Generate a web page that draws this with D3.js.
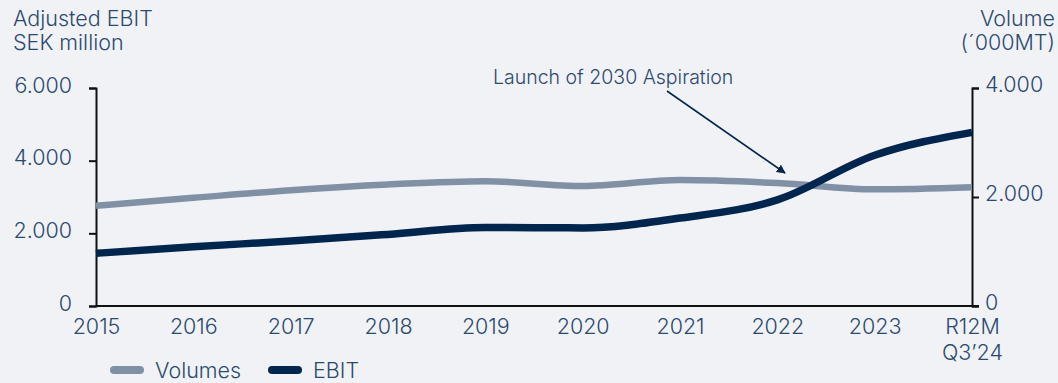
<!DOCTYPE html>
<html>
<head>
<meta charset="utf-8">
<script src="https://cdn.jsdelivr.net/npm/d3@7"></script>
<style>
  body { margin: 0; background: #f1f2f6; }
  svg { display: block; font-family: Inter, "Open Sans", sans-serif; font-weight: 300; }
</style>
</head>
<body>
<div id="chart"></div>
<script>
// Data
const years = ["2015", "2016", "2017", "2018", "2019", "2020", "2021", "2022", "2023", "R12M Q3’24"];
const ebit = [1450, 1630, 1790, 1970, 2160, 2150, 2420, 2920, 4150, 4780];      // SEK million, left axis
const volumes = [1840, 1985, 2125, 2230, 2290, 2200, 2310, 2255, 2140, 2180];  // '000 MT, right axis
const leftTicks = [0, 2000, 4000, 6000];
const rightTicks = [0, 2000, 4000];

let width = 1058, height = 383;
let margin = { top: 88, bottom: 77, left: 96, right: 86 };

const textColor = "#2b4a70";
const volColor = "#8090a5";
const ebitColor = "#00264d";
const fontSize = '21.5px';

let svg = d3.select('#chart')
    .append('svg')
    .attr('width', width)
    .attr('height', height)
    .style('background', '#f1f2f6');

// number format with dot as thousands separator
const loc = d3.formatLocale({ decimal: ",", thousands: ".", grouping: [3], currency: ["", ""] });
const fmt = loc.format(",d");

// Scales
const xScale = d3.scalePoint()
    .domain(years)
    .range([margin.left, width - margin.right]);

const yLeft = d3.scaleLinear()
    .domain([0, 6000])
    .range([height - margin.bottom, margin.top]);

const yRight = d3.scaleLinear()
    .domain([0, 4000])
    .range([height - margin.bottom, margin.top]);

// Axes
let yaxisL = svg.append('g')
    .attr('transform', `translate(${margin.left},0)`)
    .call(d3.axisLeft(yLeft).tickValues(leftTicks).tickFormat(fmt).tickSize(7).tickSizeOuter(7).tickPadding(17));

let yaxisR = svg.append('g')
    .attr('transform', `translate(${width - margin.right},0)`)
    .call(d3.axisRight(yRight).tickValues(rightTicks).tickFormat(fmt).tickSize(7).tickSizeOuter(7).tickPadding(6));

let xaxis = svg.append('g')
    .attr('transform', `translate(0,${height - margin.bottom})`)
    .call(d3.axisBottom(xScale).tickSize(0).tickSizeOuter(0).tickPadding(13));

xaxis.select('.domain').attr('d', `M${margin.left},0H${width - margin.right + 7}`);

[yaxisL, yaxisR, xaxis].forEach(ax => {
    ax.select('.domain').attr('stroke', '#111').attr('stroke-width', 2);
    ax.selectAll('.tick line').attr('stroke', '#111').attr('stroke-width', 2);
    ax.selectAll('.tick text')
        .attr('fill', textColor)
        .style('font-size', fontSize)
        .style('font-family', 'Inter, sans-serif')
        .style('font-weight', 300);
});

// vertical offsets of the y tick labels
yaxisL.selectAll('.tick text').attr('dy', '0.2em');
yaxisR.selectAll('.tick text').attr('dy', '0.15em');

// two-line last x label
xaxis.selectAll('.tick text').each(function(d) {
    const parts = d.split(' ');
    if (parts.length > 1) {
        const t = d3.select(this).text(null);
        parts.forEach((p, i) => {
            t.append('tspan').attr('x', 0).attr('dy', i === 0 ? '0.71em' : '1.2em').text(p);
        });
        t.attr('dy', null);
    }
});

// Lines
const lineVol = d3.line()
    .x((d, i) => xScale(years[i]))
    .y(d => yRight(d))
    .curve(d3.curveMonotoneX);

const lineEbit = d3.line()
    .x((d, i) => xScale(years[i]))
    .y(d => yLeft(d))
    .curve(d3.curveMonotoneX);

svg.append('path')
    .datum(volumes)
    .attr('d', lineVol)
    .attr('fill', 'none')
    .attr('stroke', volColor)
    .attr('stroke-width', 6.5);

svg.append('path')
    .datum(ebit)
    .attr('d', lineEbit)
    .attr('fill', 'none')
    .attr('stroke', ebitColor)
    .attr('stroke-width', 7.5);

// Axis titles
svg.append('text')
    .attr('x', 13)
    .attr('y', 26)
    .attr('fill', textColor)
    .style('font-size', fontSize)
    .selectAll('tspan')
    .data(["Adjusted EBIT", "SEK million"])
    .enter()
    .append('tspan')
    .attr('x', 13)
    .attr('dy', (d, i) => i === 0 ? 0 : 24)
    .text(d => d);

svg.append('text')
    .attr('x', 1055)
    .attr('y', 26)
    .attr('fill', textColor)
    .attr('text-anchor', 'end')
    .style('font-size', fontSize)
    .selectAll('tspan')
    .data(["Volume", "(´000MT)"])
    .enter()
    .append('tspan')
    .attr('x', 1055)
    .attr('dy', (d, i) => i === 0 ? 0 : 24)
    .text(d => d);

// Annotation
svg.append('defs').append('marker')
    .attr('id', 'arrow')
    .attr('viewBox', '0 0 10 10')
    .attr('refX', 9)
    .attr('refY', 5)
    .attr('markerWidth', 9)
    .attr('markerHeight', 9)
    .attr('markerUnits', 'userSpaceOnUse')
    .attr('orient', 'auto')
    .append('path')
    .attr('d', 'M0,0L10,5L0,10Z')
    .attr('fill', ebitColor);

svg.append('text')
    .attr('x', 493)
    .attr('y', 84)
    .attr('fill', textColor)
    .style('font-size', '19.5px')
    .text('Launch of 2030 Aspiration');

svg.append('line')
    .attr('x1', 667)
    .attr('y1', 91)
    .attr('x2', 785)
    .attr('y2', 173)
    .attr('stroke', ebitColor)
    .attr('stroke-width', 1.6)
    .attr('marker-end', 'url(#arrow)');

// Legend
const legend = svg.append('g').attr('transform', 'translate(0,370)');
[["Volumes", volColor, 114], ["EBIT", ebitColor, 272]].forEach(([name, col, x]) => {
    legend.append('line')
        .attr('x1', x)
        .attr('x2', x + 26)
        .attr('y1', 0)
        .attr('y2', 0)
        .attr('stroke', col)
        .attr('stroke-width', 8)
        .attr('stroke-linecap', 'round');
    legend.append('text')
        .attr('x', x + 41)
        .attr('y', 8)
        .attr('fill', textColor)
        .style('font-size', fontSize)
        .text(name);
});
</script>
</body>
</html>
